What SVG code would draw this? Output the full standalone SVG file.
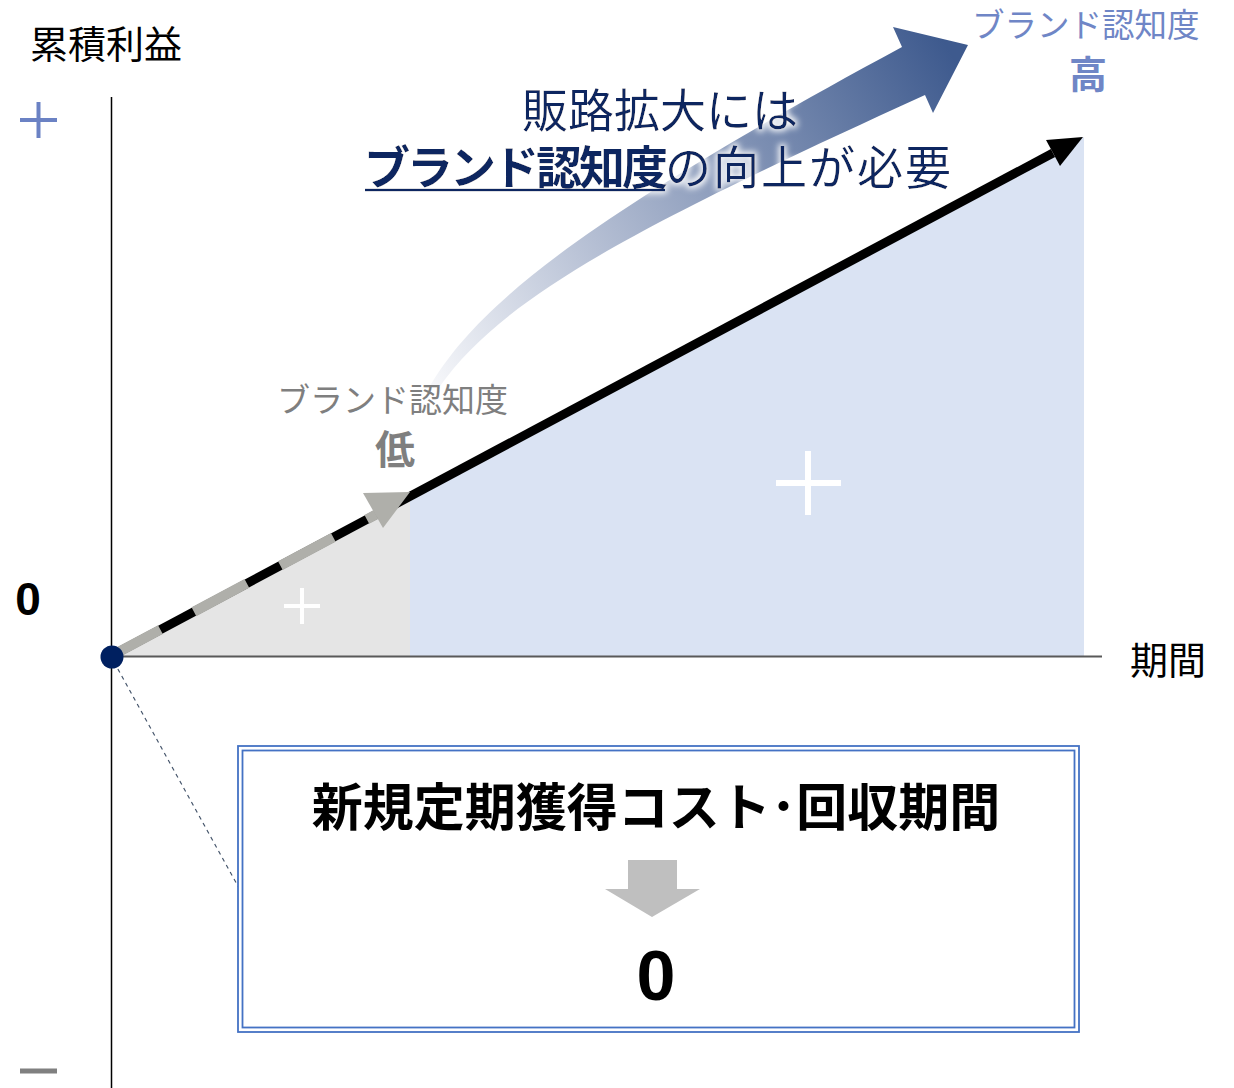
<svg xmlns="http://www.w3.org/2000/svg" width="1234" height="1088" viewBox="0 0 1234 1088">
<style>
.jp{font-family:"Noto Sans CJK JP","Noto Sans",sans-serif}
.num{font-family:"Liberation Sans",Arial,sans-serif;font-weight:bold}
.navy{fill:#0E2660}
</style>
<defs>
<linearGradient id="gArrow" gradientUnits="userSpaceOnUse" x1="432" y1="385" x2="955" y2="60">
<stop offset="0" stop-color="#F6F7FA"/>
<stop offset="0.35" stop-color="#B4BED3"/>
<stop offset="1" stop-color="#3E5A8E"/>
</linearGradient>
<filter id="glow" x="-10%" y="-30%" width="120%" height="160%">
<feMorphology in="SourceAlpha" operator="dilate" radius="2" result="d"/>
<feGaussianBlur in="d" stdDeviation="3" result="b"/>
<feFlood flood-color="#FFFFFF" flood-opacity="0.95"/>
<feComposite in2="b" operator="in" result="g"/>
<feMerge><feMergeNode in="g"/><feMergeNode in="SourceGraphic"/></feMerge>
</filter>
</defs>
<rect width="1234" height="1088" fill="#FFFFFF"/>

<g id="areas">
<polygon points="111,656 410,496 410,656" fill="#E5E5E5"/>
<polygon points="410,656 410,496 1084,137 1084,656" fill="#DAE3F3"/>
<g stroke="#FFFFFF" stroke-width="4">
<line x1="284" y1="606" x2="320" y2="606"/>
<line x1="302" y1="588" x2="302" y2="624"/>
</g>
<g stroke="#FFFFFF" stroke-width="6">
<line x1="776" y1="483" x2="841" y2="483"/>
<line x1="808" y1="451" x2="808" y2="515"/>
</g>
</g>

<g id="axes">
<line x1="111.5" y1="97" x2="111.5" y2="1088" stroke="#000000" stroke-width="1.5"/>
<line x1="111" y1="656.5" x2="1102" y2="656.5" stroke="#595959" stroke-width="2"/>
<g stroke="#6B82C4" stroke-width="4">
<line x1="20" y1="120" x2="57" y2="120"/>
<line x1="38.5" y1="102" x2="38.5" y2="138"/>
</g>
<line x1="20" y1="1071" x2="57" y2="1071" stroke="#808080" stroke-width="5"/>
<text class="jp" x="30" y="58" font-size="38" fill="#000000">累積利益</text>
<text class="num" x="28" y="615" font-size="46" text-anchor="middle" fill="#000000">0</text>
<text class="jp" x="1130" y="674" font-size="38" fill="#000000">期間</text>
</g>

<g id="brand-arrow">
<path d="M430,386 C480,300 600,210 902,47 L893,27 L968,45 L933,113 L925,95 C640,225 505,295 440,386 Z" fill="url(#gArrow)"/>
</g>

<g id="connectors">
<line x1="111" y1="656" x2="1053" y2="153" stroke="#000000" stroke-width="9"/>
<polygon points="1083,137 1046,140 1060,166" fill="#000000"/>
<line x1="111" y1="656" x2="376" y2="514.5" stroke="#AFAFAA" stroke-width="10" stroke-dasharray="60 38" stroke-dashoffset="4"/>
<polygon points="410,492 363,493 383,528" fill="#AFAFAA"/>
<line x1="114" y1="662" x2="239" y2="888" stroke="#44546A" stroke-width="1.2" stroke-dasharray="4 4"/>
</g>

<g id="origin">
<circle cx="112" cy="657" r="11.5" fill="#002060"/>
</g>

<g id="label-low">
<text class="jp" x="277" y="412" font-size="33" fill="#7F7F7F">ブランド認知度</text>
<text class="jp" x="395" y="464" font-size="40" font-weight="bold" text-anchor="middle" fill="#7F7F7F">低</text>
</g>

<g id="label-high">
<text class="jp" x="972" y="37" font-size="32.5" fill="#6F86C6">ブランド認知度</text>
<text class="jp" x="1088" y="88" font-size="38" font-weight="bold" text-anchor="middle" fill="#6F86C6">高</text>
</g>

<g id="message" filter="url(#glow)">
<text class="jp navy" x="660" y="127" font-size="46" text-anchor="middle">販路拡大には</text>
<text class="jp navy" x="364" y="184" font-size="46"><tspan font-weight="bold" letter-spacing="-3">ブランド認知度</tspan><tspan letter-spacing="2">の向上が必要</tspan></text>
<line x1="365" y1="190" x2="665" y2="190" stroke="#0E2660" stroke-width="2.5"/>
</g>

<g id="cost-box">
<rect x="238" y="746" width="841" height="286" fill="#FFFFFF" stroke="#4472C4" stroke-width="1.8"/>
<rect x="242.5" y="750.5" width="832" height="277" fill="none" stroke="#4472C4" stroke-width="1.8"/>
<text class="jp" x="656" y="826" font-size="51" font-weight="bold" text-anchor="middle" fill="#000000">新規定期獲得コスト･回収期間</text>
<polygon points="628,860 677,860 677,889 700,889 652,917 605,889 628,889" fill="#BFBFBF"/>
<text class="num" x="656" y="1000" font-size="70" text-anchor="middle" fill="#000000">0</text>
</g>
</svg>
